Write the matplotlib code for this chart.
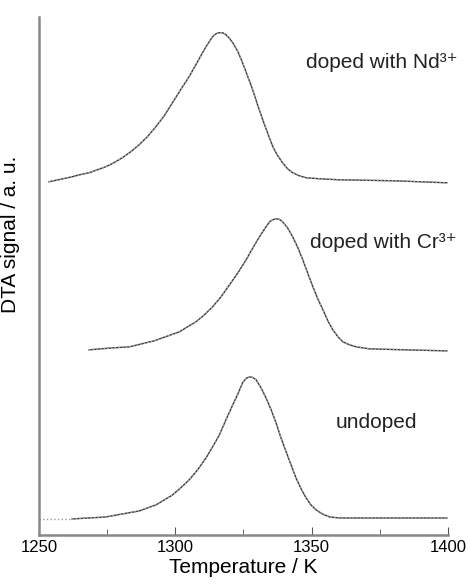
import matplotlib
matplotlib.use('Agg')
import matplotlib.pyplot as plt

plt.rcParams['font.family'] = ['Liberation Sans', 'DejaVu Sans']

# measured DTA curves (temperature in K, signal in a.u. incl. vertical offset)
undoped_T = [1262.2, 1265.0, 1268.4, 1271.5, 1274.5, 1277.5, 1280.6, 1283.7, 1286.8,
             1289.8, 1292.9, 1296.0, 1299.0, 1302.0, 1305.1, 1308.2, 1311.3, 1313.7,
             1316.2, 1318.6, 1321.1, 1323.0, 1324.7, 1326.0, 1327.2, 1328.4, 1329.7,
             1331.5, 1333.3, 1335.2, 1337.0, 1338.8, 1340.7, 1342.5, 1344.3, 1346.2,
             1348.0, 1349.8, 1351.7, 1354.0, 1356.6, 1360.3, 1380.0, 1399.6]
undoped_y = [0.16, 0.165, 0.17, 0.175, 0.18, 0.195, 0.21, 0.225, 0.24,
             0.27, 0.30, 0.35, 0.40, 0.47, 0.55, 0.65, 0.77, 0.88,
             1.00, 1.15, 1.30, 1.41, 1.52, 1.565, 1.58, 1.575, 1.55,
             1.47, 1.37, 1.25, 1.12, 0.97, 0.83, 0.70, 0.57, 0.46,
             0.37, 0.30, 0.25, 0.21, 0.18, 0.17, 0.17, 0.17]

cr_T = [1268.4, 1272.5, 1276.9, 1280.0, 1283.1, 1286.2, 1289.2, 1292.3, 1295.3,
        1298.4, 1301.5, 1304.5, 1307.6, 1310.7, 1313.7, 1316.8, 1319.9, 1323.0,
        1326.0, 1328.5, 1330.9, 1332.8, 1334.6, 1335.8, 1337.0, 1338.2, 1339.4,
        1341.2, 1343.1, 1345.0, 1346.8, 1348.7, 1350.5, 1352.3, 1354.2, 1356.0,
        1357.8, 1359.7, 1361.5, 1364.0, 1366.4, 1371.3, 1385.0, 1399.6]
cr_y = [1.85, 1.86, 1.87, 1.875, 1.88, 1.90, 1.92, 1.94, 1.97,
        2.00, 2.03, 2.08, 2.13, 2.20, 2.28, 2.38, 2.50, 2.62,
        2.75, 2.87, 2.98, 3.06, 3.13, 3.15, 3.16, 3.155, 3.13,
        3.07, 2.98, 2.87, 2.75, 2.61, 2.48, 2.36, 2.25, 2.14,
        2.05, 1.98, 1.93, 1.90, 1.88, 1.86, 1.85, 1.84]

nd_T = [1253.7, 1258.0, 1262.2, 1265.0, 1268.4, 1271.5, 1274.5, 1277.5, 1280.6,
        1283.7, 1286.8, 1289.8, 1292.9, 1296.0, 1299.0, 1302.0, 1305.1, 1308.2,
        1311.3, 1313.7, 1315.0, 1316.2, 1317.4, 1318.6, 1320.0, 1321.1, 1323.0,
        1324.7, 1326.5, 1328.4, 1330.2, 1332.1, 1334.0, 1335.8, 1337.6, 1339.4,
        1341.2, 1343.1, 1345.5, 1348.0, 1352.9, 1360.0, 1380.0, 1399.6]
nd_y = [3.53, 3.555, 3.58, 3.60, 3.62, 3.65, 3.68, 3.72, 3.77,
        3.83, 3.90, 3.98, 4.08, 4.19, 4.32, 4.45, 4.58, 4.73,
        4.88, 4.98, 5.01, 5.02, 5.02, 5.00, 4.96, 4.92, 4.83,
        4.72, 4.59, 4.45, 4.30, 4.15, 4.01, 3.88, 3.79, 3.72,
        3.66, 3.62, 3.59, 3.57, 3.56, 3.55, 3.54, 3.52]

# dotted fit baseline that runs past the data on the left
undoped_fit_T = [1250.0, 1262.2]
undoped_fit_y = [0.16, 0.16]

labels = ['undoped', 'doped with Cr³⁺', 'doped with Nd³⁺']
label_pos = [(1373.7, 1.12), (1349.5, 2.92), (1348.0, 4.72)]

fig = plt.figure(figsize=(4.68, 5.85), dpi=100)
ax = fig.add_axes([0.083, 0.0855, 0.874, 0.886])

for T, y in [(undoped_T, undoped_y), (cr_T, cr_y), (nd_T, nd_y)]:
    ax.plot(T, y, color='#3a3a3a', lw=1.0)
    ax.plot(T, y, color='#b0b0b0', lw=1.0, ls=':')
ax.plot(undoped_fit_T, undoped_fit_y, color='#999999', lw=1.0, ls=':')

ax.text(*label_pos[0], labels[0], ha='center', va='center', fontsize=15, color='#222222')
ax.text(*label_pos[1], labels[1], ha='left', va='center', fontsize=15, color='#222222')
ax.text(*label_pos[2], labels[2], ha='left', va='center', fontsize=15, color='#222222')

ax.set_xlim(1250, 1400)
ax.set_ylim(0, 5.18)
ax.set_xticks([1250, 1300, 1350, 1400])
ax.set_xticks([1275, 1325, 1375], minor=True)
ax.set_yticks([])
ax.tick_params(axis='x', which='both', direction='in', color='#555555', labelsize=12)
ax.tick_params(axis='x', which='major', length=6)
ax.tick_params(axis='x', which='minor', length=4)

for s in ['top', 'right']:
    ax.spines[s].set_visible(False)
for s in ['left', 'bottom']:
    ax.spines[s].set_color('#888888')
    ax.spines[s].set_linewidth(1.8)

ax.set_xlabel('Temperature / K', fontsize=15, labelpad=2)
ax.set_ylabel('DTA signal / a. u.', fontsize=15)
ax.yaxis.set_label_coords(-0.045, 0.58)

fig.savefig('out.png', dpi=100)
